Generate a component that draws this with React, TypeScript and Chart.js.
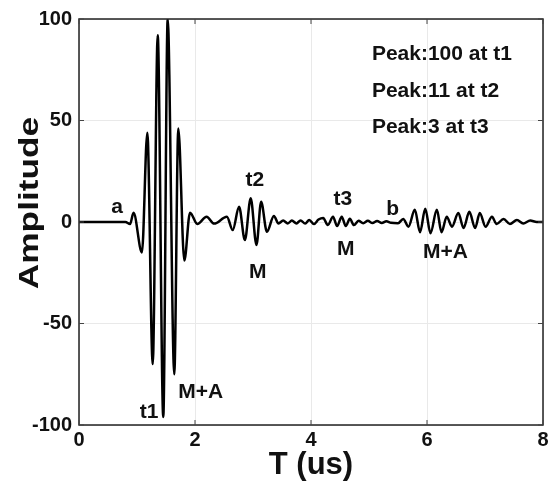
import React, { useEffect, useRef } from "react";
import { Chart, registerables } from "chart.js";

Chart.register(...registerables);

// Waveform extrema (time in us, amplitude)
const timeUs = [
  0, 0.8, 0.88, 0.94, 1.085, 1.178, 1.271, 1.357, 1.453, 1.529, 1.643, 1.712, 1.816,
  1.914, 2.04, 2.2, 2.33, 2.55, 2.65, 2.76, 2.86, 2.96, 3.06, 3.14, 3.24, 3.36,
  3.44, 3.52, 3.6, 3.67, 3.75, 3.82, 3.9, 3.97, 4.05, 4.13,
  4.21, 4.29, 4.38, 4.45, 4.53, 4.6, 4.67, 4.74,
  4.82, 4.9, 4.98, 5.06, 5.14, 5.22, 5.3, 5.38, 5.5,
  5.59, 5.68, 5.79, 5.88, 5.97, 6.06, 6.17, 6.25, 6.34, 6.43, 6.54, 6.63, 6.73,
  6.83, 6.91, 7.01, 7.12, 7.2, 7.32, 7.43, 7.55, 7.66, 7.78, 7.89, 8,
];
const amplitude = [
  0, 0, -1, 4.5, -15, 44, -70, 92, -96, 100, -75, 46, -19,
  4.6, -1, 2.6, -0.8, 2.6, -4, 7.5, -8.9, 11.7, -11.3, 10, -4.8, 3,
  -0.7, 0.7, -0.7, 0.7, -0.7, 0.8, -0.8, 1, -1, 1.2,
  2, -1.5, 2.6, -2, 2.6, -2, 1.6, -1.5,
  0.6, -0.6, 0.6, -0.5, 0.5, -0.5, 0.4, -0.4, -0.6,
  1.5, -2.3, 6, -5, 6.5, -5.5, 6, -5, 2.6, -2.3, 4.4, -3, 5,
  -3, 4.4, -2.3, 2.6, -1, 1.5, -1, 1, -0.7, 0.7, 0, 0,
];

const xTicks = [0, 2, 4, 6, 8];
const yTicks = [-100, -50, 0, 50, 100];

// Annotation labels: text, time, amplitude (baseline)
const labelTexts = ["a", "t1", "M+A", "t2", "M", "t3", "M", "b", "M+A"];
const labelTimes = [0.655, 1.207, 2.097, 3.03, 3.08, 4.55, 4.6, 5.41, 6.32];
const labelAmps = [4.4, -96.5, -86.7, 17.7, -27.6, 8.4, -16.3, 3.4, -17.7];

const peakNotes = ["Peak:100 at t1", "Peak:11 at t2", "Peak:3 at t3"];
const peakNoteTime = 5.05;
const peakNoteAmps = [79.8, 61.4, 43.7];

const xTitle = "T (us)";
const yTitle = "Amplitude";

const FONT = '"Liberation Sans", Arial, sans-serif';

const overlay = {
  id: "overlay",
  afterDatasetsDraw(chart: any) {
    const { ctx, chartArea: a, scales } = chart;
    const x = scales.x;
    const y = scales.y;
    ctx.save();
    // box
    ctx.strokeStyle = "#222";
    ctx.lineWidth = 1.5;
    ctx.strokeRect(a.left, a.top, a.right - a.left, a.bottom - a.top);
    // inward ticks
    ctx.lineWidth = 1;
    ctx.strokeStyle = "#444";
    ctx.beginPath();
    xTicks.forEach((v) => {
      const px = x.getPixelForValue(v);
      ctx.moveTo(px, a.bottom);
      ctx.lineTo(px, a.bottom - 5);
      ctx.moveTo(px, a.top);
      ctx.lineTo(px, a.top + 5);
    });
    yTicks.forEach((v) => {
      const py = y.getPixelForValue(v);
      ctx.moveTo(a.left, py);
      ctx.lineTo(a.left + 5, py);
      ctx.moveTo(a.right, py);
      ctx.lineTo(a.right - 5, py);
    });
    ctx.stroke();

    ctx.fillStyle = "#111";
    ctx.font = `bold 21px ${FONT}`;
    ctx.textAlign = "center";
    ctx.textBaseline = "alphabetic";
    labelTexts.forEach((t, i) => {
      ctx.fillText(t, x.getPixelForValue(labelTimes[i]), y.getPixelForValue(labelAmps[i]));
    });
    ctx.textAlign = "left";
    peakNotes.forEach((t, i) => {
      ctx.fillText(t, x.getPixelForValue(peakNoteTime), y.getPixelForValue(peakNoteAmps[i]));
    });

    // axis titles
    ctx.textAlign = "center";
    ctx.textBaseline = "middle";
    ctx.font = `bold 31px ${FONT}`;
    ctx.fillText(xTitle, (a.left + a.right) / 2, a.bottom + 40);

    ctx.save();
    ctx.translate(a.left - 48.5, a.top + 184);
    ctx.rotate(-Math.PI / 2);
    ctx.scale(1.26, 1);
    ctx.font = `bold 28px ${FONT}`;
    ctx.fillText(yTitle, 0, 0);
    ctx.restore();

    ctx.restore();
  },
};

export default function App() {
  const ref = useRef<HTMLCanvasElement>(null);
  useEffect(() => {
    document.body.style.margin = "0";
    const canvas = ref.current!;
    const chart = new Chart(canvas, {
      type: "line",
      data: {
        datasets: [
          {
            data: timeUs.map((t, i) => ({ x: t, y: amplitude[i] })),
            borderColor: "#000",
            borderWidth: 2.5,
            pointRadius: 0,
            cubicInterpolationMode: "monotone",
            fill: false,
          },
        ],
      },
      options: {
        animation: false,
        responsive: false,
        devicePixelRatio: 1,
        layout: { padding: { top: 19, right: 11, left: 0, bottom: 0 } },
        plugins: { legend: { display: false }, tooltip: { enabled: false } },
        scales: {
          x: {
            type: "linear",
            min: 0,
            max: 8,
            afterBuildTicks: (s: any) => {
              s.ticks = xTicks.map((v) => ({ value: v }));
            },
            afterFit: (s: any) => {
              s.height = 56;
            },
            ticks: {
              color: "#111",
              font: { family: FONT, size: 20, weight: "bold" },
              padding: 3,
              maxRotation: 0,
            },
            grid: { color: "#e9e9e9", drawTicks: false },
            border: { display: false },
          },
          y: {
            type: "linear",
            min: -100,
            max: 100,
            afterBuildTicks: (s: any) => {
              s.ticks = yTicks.map((v) => ({ value: v }));
            },
            afterFit: (s: any) => {
              s.width = 79;
            },
            ticks: {
              color: "#111",
              font: { family: FONT, size: 20, weight: "bold" },
              padding: 7,
            },
            grid: { color: "#e9e9e9", drawTicks: false },
            border: { display: false },
          },
        },
      },
      plugins: [overlay],
    });
    return () => chart.destroy();
  }, []);
  return (
    <div style={{ width: 554, height: 481, background: "#fff" }}>
      <canvas ref={ref} width={554} height={481} style={{ display: "block" }} />
    </div>
  );
}
